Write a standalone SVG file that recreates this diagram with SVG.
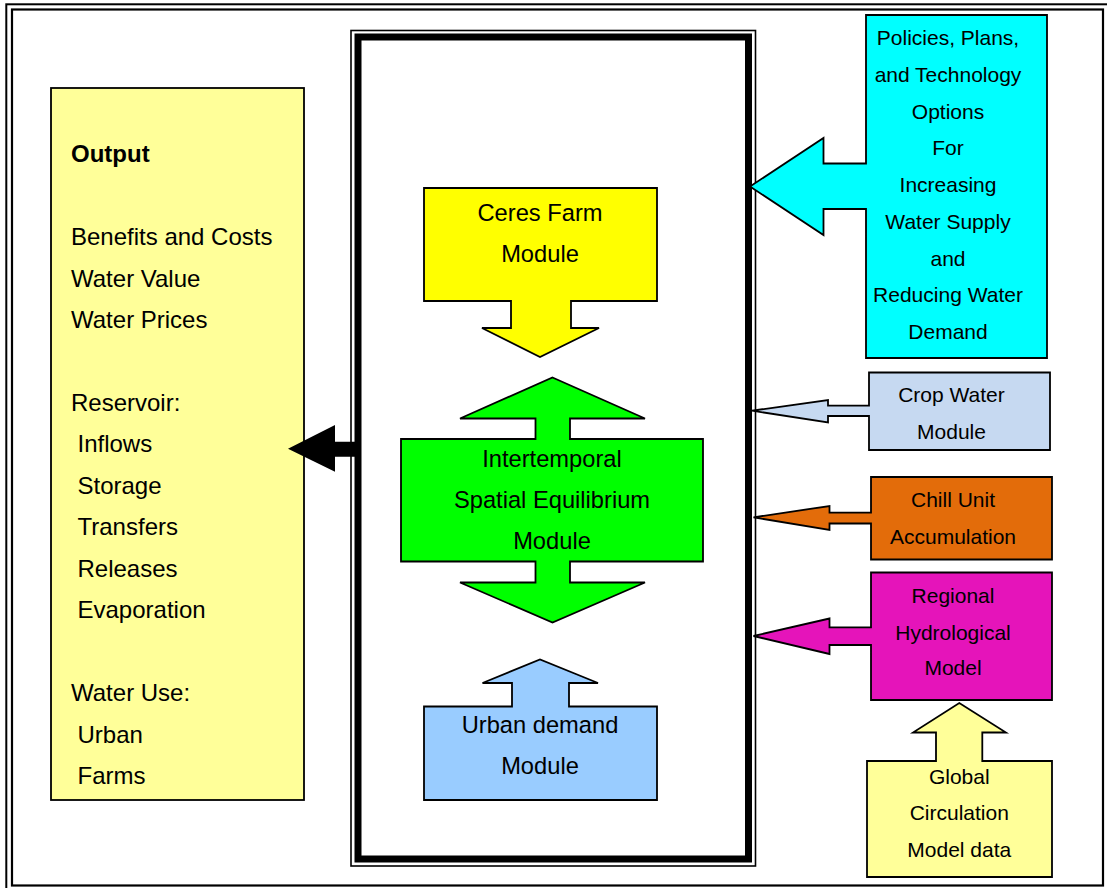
<svg xmlns="http://www.w3.org/2000/svg" width="1107" height="888" viewBox="0 0 1107 888">
<style>
.sh{stroke:#000;stroke-width:1.8;stroke-linejoin:miter}
.t{font-family:"Liberation Sans",Arial,sans-serif;font-size:24px;fill:#000}
.ts{font-family:"Liberation Sans",Arial,sans-serif;font-size:21px;fill:#000;text-anchor:middle}
.tm{font-family:"Liberation Sans",Arial,sans-serif;font-size:23.7px;fill:#000;text-anchor:middle}
</style>
<rect width="1107" height="888" fill="#fff"/>
<g id="frame" fill="none" stroke="#000">
<rect x="6.3" y="4.3" width="1102" height="886" stroke-width="2"/>
<rect x="12" y="9.5" width="1091" height="876" stroke-width="2.2"/>
</g>
<g id="core" fill="none" stroke="#000">
<rect x="351" y="30.5" width="404.5" height="835.5" stroke-width="1.6"/>
<rect x="358" y="37" width="390.5" height="822" stroke-width="7"/>
</g>
<g id="output">
<rect x="51" y="88" width="253" height="712" fill="#FFFF99" class="sh"/>
<text class="t" x="71" y="162" font-weight="bold" font-size="23.5">Output</text>
<text class="t" x="71" y="245">Benefits and Costs</text>
<text class="t" x="71" y="286.5">Water Value</text>
<text class="t" x="71" y="328">Water Prices</text>
<text class="t" x="71" y="411">Reservoir:</text>
<text class="t" x="77.5" y="452">Inflows</text>
<text class="t" x="77.5" y="493.5">Storage</text>
<text class="t" x="77.5" y="535">Transfers</text>
<text class="t" x="77.5" y="576.5">Releases</text>
<text class="t" x="77.5" y="618">Evaporation</text>
<text class="t" x="71" y="701">Water Use:</text>
<text class="t" x="77.5" y="742.5">Urban</text>
<text class="t" x="77.5" y="784">Farms</text>
</g>
<g id="ceres">
<polygon class="sh" fill="#FFFF00" points="424,188 657,188 657,301 571,301 571,328 599,328 540,357 482,328 511,328 511,301 424,301"/>
<text class="tm" x="540" y="221">Ceres Farm</text>
<text class="tm" x="540" y="262">Module</text>
</g>
<g id="equilibrium">
<polygon class="sh" fill="#00FF00" points="552.5,377.5 645,418.5 570,418.5 570,439 703,439 703,561.5 570,561.5 570,582.5 645,582.5 552.5,622.5 460,582.5 535.5,582.5 535.5,561.5 401,561.5 401,439 535.5,439 535.5,418.5 460,418.5"/>
<text class="tm" x="552" y="467">Intertemporal</text>
<text class="tm" x="552" y="507.5">Spatial Equilibrium</text>
<text class="tm" x="552" y="549">Module</text>
</g>
<g id="urban">
<polygon class="sh" fill="#99CCFF" points="424,706.5 512,706.5 512,683 482.5,683 540,659.5 598,683 569,683 569,706.5 657,706.5 657,800 424,800"/>
<text class="tm" x="540" y="733">Urban demand</text>
<text class="tm" x="540" y="773.5">Module</text>
</g>
<g id="policies">
<polygon class="sh" fill="#00FFFF" points="866,15 1047,15 1047,358 866,358 866,209 823.5,209 823.5,235 750,186.5 823.5,138 823.5,163.5 866,163.5"/>
<text class="ts" x="948" y="45">Policies, Plans,</text>
<text class="ts" x="948" y="82">and Technology</text>
<text class="ts" x="948" y="118.5">Options</text>
<text class="ts" x="948" y="155">For</text>
<text class="ts" x="948" y="192">Increasing</text>
<text class="ts" x="948" y="229">Water Supply</text>
<text class="ts" x="948" y="265.5">and</text>
<text class="ts" x="948" y="302">Reducing Water</text>
<text class="ts" x="948" y="338.5">Demand</text>
</g>
<g id="cropwater">
<polygon class="sh" fill="#C6D9F1" points="869,372.5 1050,372.5 1050,450 869,450 869,416 828,416 828,422.5 752,410.7 828,400 828,405.7 869,405.7"/>
<text class="ts" x="951.5" y="402">Crop Water</text>
<text class="ts" x="951.5" y="438.5">Module</text>
</g>
<g id="chill">
<polygon class="sh" fill="#E36C0A" points="871,477 1052,477 1052,559.5 871,559.5 871,523.5 829.5,523.5 829.5,530 753.5,517.3 829.5,506 829.5,512.7 871,512.7"/>
<text class="ts" x="953" y="507">Chill Unit</text>
<text class="ts" x="953" y="543.5">Accumulation</text>
</g>
<g id="regional">
<polygon class="sh" fill="#E514BA" points="871,572.5 1052,572.5 1052,700 871,700 871,645 829.5,645 829.5,654 753.5,636 829.5,618.5 829.5,627.3 871,627.3"/>
<text class="ts" x="953" y="603">Regional</text>
<text class="ts" x="953" y="639.5">Hydrological</text>
<text class="ts" x="953" y="675">Model</text>
</g>
<g id="gcm">
<polygon class="sh" fill="#FFFF99" points="867,761 936,761 936,732.5 913,732.5 959.3,703 1006,732.5 982.3,732.5 982.3,761 1052,761 1052,877 867,877"/>
<text class="ts" x="959.3" y="783.5">Global</text>
<text class="ts" x="959.3" y="820">Circulation</text>
<text class="ts" x="959.3" y="857">Model data</text>
</g>
<g id="connectors">
<polygon fill="#000" points="355,441.7 335,441.7 335,425 288,448.8 335,471.7 335,456.7 355,456.7"/>
</g>
</svg>
